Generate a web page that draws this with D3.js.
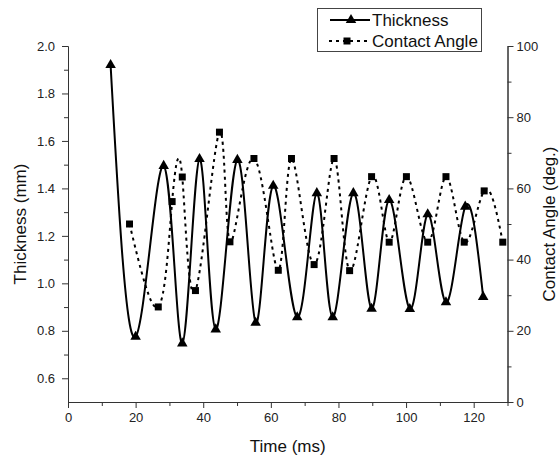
<!DOCTYPE html>
<html>
<head>
<meta charset="utf-8">
<script src="https://cdn.jsdelivr.net/npm/d3@7"></script>
<style>
  body { margin: 0; background: #fff; }
  svg { display: block; font-family: "Liberation Sans", Arial, sans-serif; }
  .axis path, .axis line { stroke: #333; }
  .axis text { font-size: 13px; fill: #222; }
</style>
</head>
<body>
<svg id="chart" width="560" height="462"></svg>
<script>
// thickness series (left axis)
const thickTime = [12.6, 20.0, 28.3, 33.8, 38.9, 43.7, 50.1, 55.5, 60.7, 67.8, 73.6, 78.3, 84.4, 89.8, 95.0, 101.1, 106.4, 111.8, 117.5, 122.8];
const thickness = [1.92, 0.775, 1.495, 0.747, 1.524, 0.806, 1.52, 0.834, 1.411, 0.857, 1.38, 0.857, 1.38, 0.893, 1.351, 0.892, 1.291, 0.92, 1.323, 0.943];

// contact angle series (right axis)
const angleTime = [18.2, 26.7, 30.8, 33.8, 37.7, 44.8, 47.9, 55.0, 62.2, 66.1, 72.8, 78.7, 83.3, 89.8, 95.0, 100.1, 106.4, 111.8, 117.2, 123.1, 128.6];
const angle = [50.0, 26.7, 56.3, 63.2, 31.3, 75.8, 45.0, 68.4, 37.0, 68.4, 38.6, 68.4, 36.9, 63.3, 44.9, 63.3, 44.9, 63.3, 44.9, 59.3, 44.9];

const xTicks = [0, 20, 40, 60, 80, 100, 120];
const xMinor = [10, 30, 50, 70, 90, 110, 130];
const leftTicks = [0.6, 0.8, 1.0, 1.2, 1.4, 1.6, 1.8, 2.0];
const leftMinor = [0.7, 0.9, 1.1, 1.3, 1.5, 1.7, 1.9];
const rightTicks = [0, 20, 40, 60, 80, 100];
const rightMinor = [10, 30, 50, 70, 90];

const seriesNames = ['Thickness', 'Contact Angle'];

const svg = d3.select('#chart');
const plot = { left: 68, right: 507.5, top: 46, bottom: 402 };

const x = d3.scaleLinear().domain([0, 130]).range([plot.left, plot.right]);
const yL = d3.scaleLinear().domain([0.5, 2.0]).range([plot.bottom, plot.top]);
const yR = d3.scaleLinear().domain([0, 100]).range([plot.bottom, plot.top]);

// ---- axes ----
function drawAxis(axis, transform) {
  const g = svg.append('g').attr('class', 'axis').attr('transform', transform).call(axis);
  return g;
}

drawAxis(d3.axisBottom(x).tickValues(xTicks).tickFormat(d3.format('d')).tickSize(6).tickPadding(5).tickSizeOuter(0),
  `translate(0,${plot.bottom})`);
drawAxis(d3.axisBottom(x).tickValues(xMinor).tickFormat('').tickSize(4).tickSizeOuter(0),
  `translate(0,${plot.bottom})`);

drawAxis(d3.axisLeft(yL).tickValues(leftTicks).tickFormat(d3.format('.1f')).tickSize(6).tickPadding(7).tickSizeOuter(0),
  `translate(${plot.left},0)`);
drawAxis(d3.axisLeft(yL).tickValues(leftMinor).tickFormat('').tickSize(4).tickSizeOuter(0),
  `translate(${plot.left},0)`);

drawAxis(d3.axisRight(yR).tickValues(rightTicks).tickFormat(d3.format('d')).tickSize(6).tickPadding(3).tickSizeOuter(0),
  `translate(${plot.right},0)`);
drawAxis(d3.axisRight(yR).tickValues(rightMinor).tickFormat('').tickSize(4).tickSizeOuter(0),
  `translate(${plot.right},0)`);

// axis titles
svg.append('text')
  .attr('x', (plot.left + plot.right) / 2).attr('y', 452)
  .attr('text-anchor', 'middle').attr('font-size', 17).attr('fill', '#111')
  .text('Time (ms)');

svg.append('text')
  .attr('transform', `translate(26,${(plot.top + plot.bottom) / 2}) rotate(-90)`)
  .attr('text-anchor', 'middle').attr('font-size', 17).attr('fill', '#111')
  .text('Thickness (mm)');

svg.append('text')
  .attr('transform', `translate(555,${(plot.top + plot.bottom) / 2}) rotate(-90)`)
  .attr('text-anchor', 'middle').attr('font-size', 17).attr('fill', '#111')
  .text('Contact Angle (deg.)');

// ---- series ----
const thickData = thickTime.map((t, i) => ({ t, v: thickness[i] }));
const angleData = angleTime.map((t, i) => ({ t, v: angle[i] }));

const thickLine = d3.line().x(d => x(d.t)).y(d => yL(d.v)).curve(d3.curveNatural);
const angleLine = d3.line().x(d => x(d.t)).y(d => yR(d.v)).curve(d3.curveNatural);

svg.append('path')
  .datum(angleData)
  .attr('d', angleLine)
  .attr('fill', 'none').attr('stroke', '#000').attr('stroke-width', 2)
  .attr('stroke-dasharray', '3,4');

svg.append('path')
  .datum(thickData)
  .attr('d', thickLine)
  .attr('fill', 'none').attr('stroke', '#000').attr('stroke-width', 2);

const tri = d3.symbol().type(d3.symbolTriangle).size(48);
const sq = d3.symbol().type(d3.symbolSquare).size(49);

svg.selectAll('.sq')
  .data(angleData)
  .join('path')
  .attr('class', 'sq')
  .attr('d', sq)
  .attr('transform', d => `translate(${x(d.t)},${yR(d.v)})`)
  .attr('fill', '#000');

svg.selectAll('.tri')
  .data(thickData)
  .join('path')
  .attr('class', 'tri')
  .attr('d', tri)
  .attr('transform', d => `translate(${x(d.t)},${yL(d.v)})`)
  .attr('fill', '#000');

// ---- legend ----
const legend = svg.append('g');
legend.append('rect')
  .attr('x', 317.5).attr('y', 8.5).attr('width', 164).attr('height', 43)
  .attr('fill', '#fff').attr('stroke', '#444').attr('stroke-width', 1);

const rows = [20, 41];
legend.append('line')
  .attr('x1', 330).attr('x2', 370).attr('y1', rows[0]).attr('y2', rows[0])
  .attr('stroke', '#000').attr('stroke-width', 2);
legend.append('path').attr('d', tri).attr('transform', `translate(351,${rows[0]})`);
legend.append('line')
  .attr('x1', 329).attr('x2', 370).attr('y1', rows[1]).attr('y2', rows[1])
  .attr('stroke', '#000').attr('stroke-width', 2).attr('stroke-dasharray', '3,4');
legend.append('path').attr('d', sq).attr('transform', `translate(347,${rows[1]})`);

legend.selectAll('text.lg')
  .data(seriesNames)
  .join('text')
  .attr('class', 'lg')
  .attr('x', 372).attr('y', (d, i) => rows[i] + 6)
  .attr('font-size', 17).attr('fill', '#111')
  .text(d => d);
</script>
</body>
</html>
